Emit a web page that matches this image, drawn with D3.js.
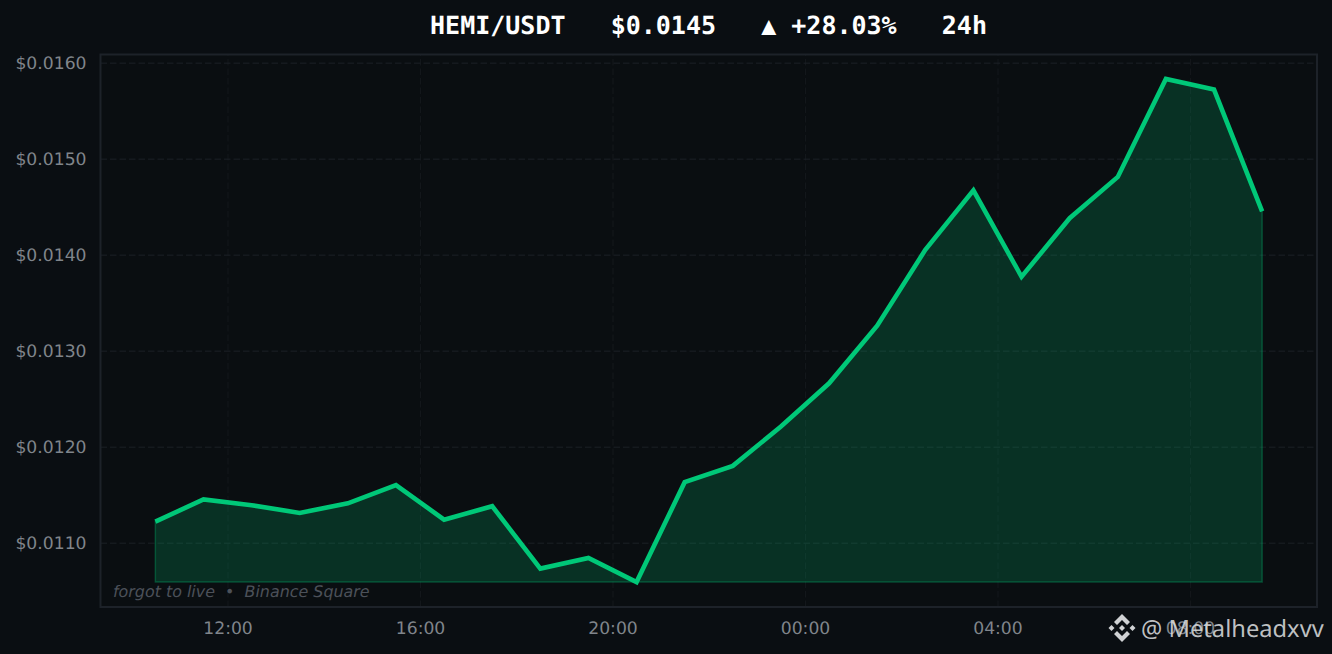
<!DOCTYPE html>
<meta charset="utf-8">
<style>
html, body { margin: 0; padding: 0; background: #0a0e12; overflow: hidden; }
text { text-rendering: geometricPrecision; }
.line { fill: none; stroke: #00c878; stroke-width: 4.6px; stroke-linejoin: miter; }
.area { fill: #00c878; fill-opacity: 0.19; stroke: #00c878; stroke-opacity: 0.3; stroke-width: 1.5px; }
.grid line { stroke: #1c2126; stroke-width: 1px; stroke-dasharray: 6.5 3; }
.grid path { stroke-width: 0; }
.gridx line { stroke: #14181c; }
.axis path, .axis line { stroke: none; }
.axis text { fill: #80858b; font-family: "DejaVu Sans"; font-size: 17.2px; }
</style>
<body>
<div id="my_dataviz"></div>
<script src="https://d3js.org/d3.v7.js"></script>
<script>

// hours counted from 12:00 on the first day
var hours = [-1.5, -0.5, 0.5, 1.5, 2.5, 3.5, 4.5, 5.5, 6.5, 7.5, 8.5, 9.5,
             10.5, 11.5, 12.5, 13.5, 14.5, 15.5, 16.5, 17.5, 18.5, 19.5, 20.5, 21.5];
var prices = [0.01122, 0.01145, 0.01139, 0.01131, 0.01141, 0.01160, 0.01124, 0.01138,
              0.01073, 0.01084, 0.01059, 0.01163, 0.01180, 0.01221, 0.01266, 0.01326,
              0.01405, 0.01467, 0.01377, 0.01438, 0.01481, 0.01583, 0.01572, 0.01445];
var priceTicks = [0.0110, 0.0120, 0.0130, 0.0140, 0.0150, 0.0160];
var hourTicks = [0, 4, 8, 12, 16, 20];
var hourLabels = ["12:00", "16:00", "20:00", "00:00", "04:00", "08:00"];
var titleText = "HEMI/USDT   $0.0145   \u25B2 +28.03%   24h";
var footText = "forgot to live  \u2022  Binance Square";
var handle = "@ Metalheadxvv";

var margin = {top: 54.5, right: 15, bottom: 47, left: 100.5},
    width = 1332 - margin.left - margin.right,
    height = 654 - margin.top - margin.bottom;

var x = d3.scaleLinear().domain([-2.64, 22.64]).range([0, width]);
var y = d3.scaleLinear().domain([0.010330, 0.016085]).range([height, 0]);

var root = d3.select("#my_dataviz").append("svg")
    .attr("width", 1332)
    .attr("height", 654)
    .style("display", "block");

root.append("text")
    .attr("x", 708.5)
    .attr("y", 34)
    .attr("text-anchor", "middle")
    .attr("xml:space", "preserve")
    .style("white-space", "pre")
    .style("font-family", "DejaVu Sans Mono")
    .style("font-weight", "bold")
    .style("font-size", "25px")
    .style("fill", "#ffffff")
    .text(titleText);

var svg = root.append("g")
    .attr("transform", "translate(" + margin.left + "," + margin.top + ")");

svg.append("rect")
    .attr("width", width)
    .attr("height", height)
    .style("fill", "#0a0e11");

// gridlines
svg.append("g")
    .attr("class", "grid gridx")
    .attr("transform", "translate(0," + height + ")")
    .call(d3.axisBottom(x).tickValues(hourTicks).tickSize(-height).tickFormat(""));
svg.append("g")
    .attr("class", "grid")
    .call(d3.axisLeft(y).tickValues(priceTicks).tickSize(-width).tickFormat(""));

var area = d3.area()
    .x(function(d, i) { return x(hours[i]); })
    .y0(y(d3.min(prices)))
    .y1(function(d) { return y(d); });
var line = d3.line()
    .x(function(d, i) { return x(hours[i]); })
    .y(function(d) { return y(d); });

svg.append("path").datum(prices).attr("class", "area").attr("d", area);
svg.append("path").datum(prices).attr("class", "line").attr("d", line);

svg.append("rect")
    .attr("width", width)
    .attr("height", height)
    .style("fill", "none")
    .style("stroke", "#1d2229")
    .style("stroke-width", "2px");

// axes
svg.append("g")
    .attr("class", "axis")
    .attr("transform", "translate(0," + height + ")")
    .call(d3.axisBottom(x).tickValues(hourTicks).tickSize(0).tickPadding(15)
        .tickFormat(function(d, i) { return hourLabels[i]; }));
svg.append("g")
    .attr("class", "axis")
    .call(d3.axisLeft(y).tickValues(priceTicks).tickSize(0).tickPadding(14)
        .tickFormat(function(d) { return "$" + d.toFixed(4); }));

svg.append("text")
    .attr("x", 12.5)
    .attr("y", 542)
    .attr("xml:space", "preserve")
    .style("white-space", "pre")
    .style("font-family", "DejaVu Sans")
    .style("font-style", "italic")
    .style("font-size", "15.9px")
    .style("fill", "#4c5159")
    .text(footText);

// watermark
var logo = root.append("g")
    .attr("transform", "translate(1122,628)")
    .style("fill", "#d0d2d4");
logo.append("path").attr("d", "M0,-14 L8,-6 L5,-3 L0,-8 L-5,-3 L-8,-6 Z");
logo.append("path").attr("d", "M0,14 L8,6 L5,3 L0,8 L-5,3 L-8,6 Z");
logo.append("path").attr("d", "M0,-3 L3,0 L0,3 L-3,0 Z");
logo.append("path").attr("d", "M-10.5,-3 L-7.5,0 L-10.5,3 L-13.5,0 Z");
logo.append("path").attr("d", "M10.5,-3 L13.5,0 L10.5,3 L7.5,0 Z");

root.append("text")
    .attr("x", 1141)
    .attr("y", 637)
    .style("font-family", "Noto Sans")
    .style("font-size", "23.7px")
    .style("fill", "#d8dadc")
    .style("fill-opacity", 0.88)
    .text(handle);

</script>
</body>
</html>
